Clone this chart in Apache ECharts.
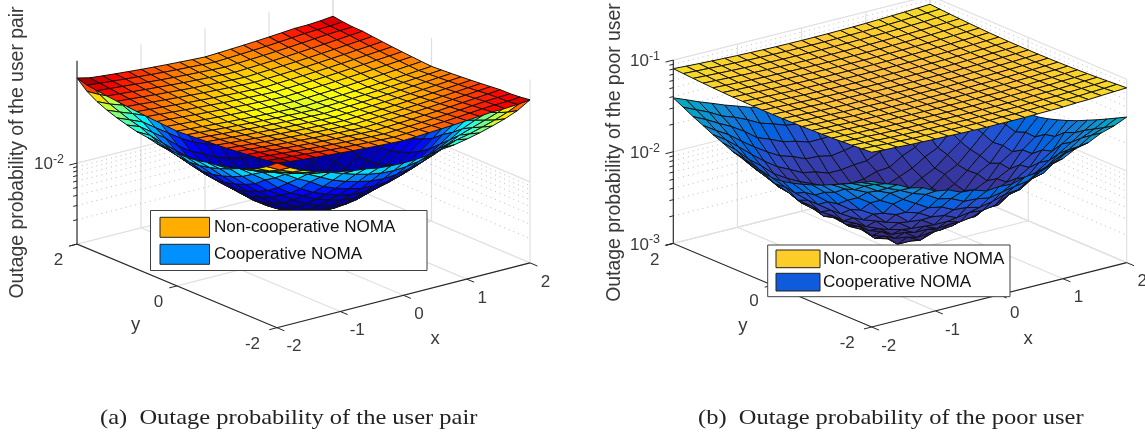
<!DOCTYPE html>
<html><head><meta charset="utf-8">
<style>html,body{margin:0;padding:0;background:#fff}#c{width:1145px;height:433px}</style>
<script src="https://cdn.jsdelivr.net/npm/echarts@6/dist/echarts.min.js"></script>
</head><body><div id="c"></div>
<script>
// grid of the surfaces
const gridXY=[-2,-1.8,-1.6,-1.4,-1.2,-1,-0.8,-0.6,-0.4,-0.2,0,0.2,0.4,0.6,0.8,1,1.2,1.4,1.6,1.8,2];
const xTicks=[-2,-1,0,1,2];
const yTicks=[-2,0,2];
const zTicksA=[0.01];
const zMinorA=[0.002,0.003,0.004,0.005,0.006,0.007,0.008,0.009];
const zTicksB=[0.1,0.01,0.001];
const zMinorB=[0.002,0.003,0.004,0.005,0.006,0.007,0.008,0.009,0.02,0.03,0.04,0.05,0.06,0.07,0.08,0.09];
const zUnit=1e-5;
// outage probability, in units of 1e-5; rows y=-2..2, columns x=-2..2
const pairNonCoop=[
[10800,10253,9926,9605,9313,9049,8813,8611,8431,8271,8130,8271,8431,8611,8813,9049,9313,9605,9650,9900,10300],
[10253,9925,9615,9323,9041,8783,8561,8370,8200,8048,7914,8048,8200,8370,8561,8783,9041,9323,9500,9600,9900],
[9926,9615,9322,9037,8772,8530,8320,8141,7981,7837,7710,7837,7981,8141,8320,8530,8772,9037,9322,9500,9650],
[9605,9323,9037,8762,8514,8285,8088,7918,7766,7630,7510,7630,7766,7918,8088,8285,8514,8762,9037,9323,9605],
[9313,9041,8772,8514,8280,8063,7877,7715,7570,7443,7328,7443,7570,7715,7877,8063,8280,8514,8772,9041,9313],
[9049,8783,8530,8285,8063,7857,7682,7527,7390,7270,7160,7270,7390,7527,7682,7857,8063,8285,8530,8783,9049],
[8813,8561,8320,8088,7877,7682,7513,7366,7235,7119,7016,7119,7235,7366,7513,7682,7877,8088,8320,8561,8813],
[8611,8370,8141,7918,7715,7527,7366,7225,7100,6988,6890,6988,7100,7225,7366,7527,7715,7918,8141,8370,8611],
[8431,8200,7981,7766,7570,7390,7235,7100,6980,6873,6778,6873,6980,7100,7235,7390,7570,7766,7981,8200,8431],
[8271,8048,7837,7630,7443,7270,7119,6988,6873,6769,6678,6769,6873,6988,7119,7270,7443,7630,7837,8048,8271],
[8130,7914,7710,7510,7328,7160,7016,6890,6778,6678,6590,6678,6778,6890,7016,7160,7328,7510,7710,7914,8130],
[8271,8048,7837,7630,7443,7270,7119,6988,6873,6769,6678,6769,6873,6988,7119,7270,7443,7630,7837,8048,8271],
[8431,8200,7981,7766,7570,7390,7235,7100,6980,6873,6778,6873,6980,7100,7235,7390,7570,7766,7981,8200,8431],
[8611,8370,8141,7918,7715,7527,7366,7225,7100,6988,6890,6988,7100,7225,7366,7527,7715,7918,8141,8370,8611],
[8813,8561,8320,8088,7877,7682,7513,7366,7235,7119,7016,7119,7235,7366,7513,7682,7877,8088,8320,8561,8813],
[9049,8783,8530,8285,8063,7857,7682,7527,7390,7270,7160,7270,7390,7527,7682,7857,8063,8285,8530,8783,9049],
[9313,9041,8772,8514,8280,8063,7877,7715,7570,7443,7328,7443,7570,7715,7877,8063,8280,8514,8772,9041,9313],
[9605,9323,9037,8762,8514,8285,8088,7918,7766,7630,7510,7630,7766,7918,8088,8285,8514,8762,9037,9323,9605],
[9926,9615,9322,9037,8772,8530,8320,8141,7981,7837,7710,7837,7981,8141,8320,8530,8772,9037,9322,9500,9650],
[10300,9925,9615,9323,9041,8783,8561,8370,8200,8048,7914,8048,8200,8370,8561,8783,9041,9323,9500,9600,9900],
[11220,10300,9926,9605,9313,9049,8813,8611,8431,8271,8130,8271,8431,8611,8813,9049,9313,9605,9650,9900,10300]];
const pairCoop=[
[10800,8650,7280,6420,5800,5340,4970,4790,4480,4350,4305,4350,4480,4790,4970,5340,5800,6420,7200,8300,10300],
[8650,7180,6190,5550,5010,4650,4100,3650,3340,3140,3069,3140,3340,3650,4100,4650,5010,5550,6190,7050,8300],
[7280,6190,5470,4850,4305,3600,3010,2650,2400,2230,2169,2230,2400,2650,3010,3600,4305,4850,5470,6190,7200],
[6420,5550,4850,4170,3340,2800,2230,1940,1745,1610,1563,1610,1745,1940,2230,2800,3340,4170,4850,5550,6420],
[5800,5010,4305,3340,2620,2050,1680,1450,1295,1200,1169,1200,1295,1450,1680,2050,2620,3340,4305,5010,5800],
[5340,4650,3600,2800,2050,1600,1350,1120,1000,905,879,905,1000,1120,1350,1600,2050,2800,3600,4650,5340],
[4970,4100,3010,2230,1680,1350,1070,879,760,680,656,680,760,879,1070,1350,1680,2230,3010,4100,4970],
[4790,3650,2650,1940,1450,1120,879,710,600,535,518,535,600,710,879,1120,1450,1940,2650,3650,4790],
[4480,3340,2400,1745,1295,1000,760,600,505,445,430,445,505,600,760,1000,1295,1745,2400,3340,4480],
[4350,3140,2230,1610,1200,905,680,535,445,400,385,400,445,535,680,905,1200,1610,2230,3140,4350],
[4305,3069,2169,1563,1169,879,656,518,430,385,377,385,430,518,656,879,1169,1563,2169,3069,4305],
[4350,3140,2230,1610,1200,905,680,535,445,400,385,400,445,535,680,905,1200,1610,2230,3140,4350],
[4480,3340,2400,1745,1295,1000,760,600,505,445,430,445,505,600,760,1000,1295,1745,2400,3340,4480],
[4790,3650,2650,1940,1450,1120,879,710,600,535,518,535,600,710,879,1120,1450,1940,2650,3650,4790],
[4970,4100,3010,2230,1680,1350,1070,879,760,680,656,680,760,879,1070,1350,1680,2230,3010,4100,4970],
[5340,4650,3600,2800,2050,1600,1350,1120,1000,905,879,905,1000,1120,1350,1600,2050,2800,3600,4650,5340],
[5800,5010,4305,3340,2620,2050,1680,1450,1295,1200,1169,1200,1295,1450,1680,2050,2620,3340,4305,5010,5800],
[6420,5550,4850,4170,3340,2800,2230,1940,1745,1610,1563,1610,1745,1940,2230,2800,3340,4170,4850,5550,6420],
[7280,6190,5470,4850,4305,3600,3010,2650,2400,2230,2169,2230,2400,2650,3010,3600,4305,4850,5470,6190,7200],
[8650,7180,6190,5550,5010,4650,4100,3650,3340,3140,3069,3140,3340,3650,4100,4650,5010,5550,6190,7050,8300],
[11220,8650,7280,6420,5800,5340,4970,4790,4480,4350,4305,4350,4480,4790,4970,5340,5800,6420,7200,8300,10300]];
const poorNonCoop=[
[8070,7900,7810,7660,7590,7500,7460,7380,7340,7290,7320,7310,7330,7390,7420,7470,7600,7660,7810,7940,8070],
[7930,7800,7650,7570,7440,7410,7350,7300,7260,7230,7190,7240,7210,7260,7340,7370,7480,7540,7680,7770,7930],
[7790,7680,7540,7430,7360,7280,7240,7210,7170,7100,7130,7110,7170,7160,7240,7310,7350,7470,7560,7660,7790],
[7690,7540,7470,7340,7280,7190,7170,7130,7090,7060,7030,7070,7050,7110,7120,7230,7280,7340,7450,7570,7680],
[7570,7480,7350,7290,7170,7150,7080,7060,7020,7000,6990,6970,7020,7010,7090,7110,7220,7260,7380,7440,7580],
[7490,7400,7310,7190,7130,7050,7040,6980,6960,6920,6930,6950,6930,6990,7010,7080,7110,7220,7270,7400,7490],
[7430,7300,7230,7120,7070,7030,6970,6940,6910,6900,6880,6890,6920,6910,6980,7000,7090,7130,7250,7300,7420],
[7370,7250,7170,7120,6980,6970,6940,6890,6860,6850,6850,6850,6870,6880,6940,6970,7030,7090,7180,7270,7370],
[7330,7230,7130,7050,6970,6930,6900,6860,6840,6830,6820,6830,6830,6860,6900,6950,7000,7060,7150,7220,7330],
[7300,7200,7110,7020,6950,6890,6890,6840,6820,6810,6800,6810,6820,6850,6880,6940,6980,7050,7120,7220,7310],
[7300,7210,7110,7050,6950,6930,6880,6850,6820,6800,6800,6800,6820,6850,6880,6920,6980,7050,7130,7200,7300],
[7310,7220,7130,7050,6960,6930,6880,6850,6830,6810,6810,6810,6830,6840,6890,6930,6980,7040,7140,7210,7310],
[7330,7230,7150,7070,6980,6950,6900,6870,6840,6830,6820,6820,6840,6870,6900,6950,7000,7070,7140,7240,7330],
[7370,7270,7180,7100,7010,6980,6930,6890,6870,6850,6850,6850,6870,6890,6930,6980,7030,7100,7180,7270,7370],
[7420,7320,7230,7150,7070,7020,6980,6930,6900,6890,6880,6890,6900,6930,6970,7020,7080,7150,7230,7320,7420],
[7490,7390,7290,7200,7120,7070,7030,6980,6950,6930,6930,6930,6950,6980,7020,7070,7130,7200,7290,7390,7490],
[7580,7460,7360,7270,7180,7130,7090,7030,7000,6990,6980,6990,7000,7030,7080,7130,7200,7270,7360,7460,7580],
[7680,7560,7450,7350,7270,7200,7150,7100,7070,7050,7050,7050,7070,7100,7150,7200,7270,7350,7450,7560,7680],
[7790,7670,7550,7450,7360,7290,7230,7180,7150,7130,7120,7130,7150,7180,7230,7290,7360,7450,7550,7670,7790],
[7920,7790,7670,7560,7460,7380,7320,7270,7230,7210,7200,7210,7230,7270,7320,7380,7460,7560,7670,7790,7920],
[8070,7920,7790,7680,7580,7490,7430,7370,7330,7310,7300,7310,7330,7370,7420,7490,7580,7680,7790,7920,8070]];
const poorCoop=[
[3870,3380,3040,2580,2400,2030,1930,1680,1640,1470,1520,1490,1640,1690,1930,2050,2420,2600,3050,3360,3870],
[3400,2990,2500,2190,1870,1680,1390,1290,1110,1090,1030,1100,1170,1230,1440,1620,1950,2110,2590,2900,3400],
[2990,2580,2110,1840,1450,1210,1000,940,810,790,730,780,860,890,1060,1150,1510,1760,2180,2520,2990],
[2640,2120,1830,1380,1160,870,790,660,630,550,580,560,590,700,750,930,1100,1440,1770,2190,2640],
[2350,1950,1440,1170,830,740,570,550,450,450,410,430,490,490,610,680,880,1090,1520,1860,2350],
[2090,1610,1220,880,730,550,500,400,390,340,350,360,360,430,460,590,690,930,1140,1690,2090],
[1890,1450,1000,800,570,510,380,350,300,300,270,280,320,330,420,450,610,740,1060,1370,1890],
[1730,1220,950,650,540,400,350,280,270,220,230,240,240,310,330,430,500,710,870,1300,1730],
[1600,1170,800,640,450,390,300,270,210,200,170,190,220,240,320,360,490,580,860,1100,1600],
[1510,1040,800,550,460,340,300,220,200,150,150,170,180,240,280,360,420,600,740,1110,1510],
[1480,1090,720,580,410,360,270,230,170,155,140,140,190,210,290,320,450,540,780,1010,1480],
[1530,1060,790,560,440,360,280,240,180,165,150,160,180,230,290,340,440,590,760,1090,1530],
[1590,1150,820,630,480,380,320,250,220,180,180,200,210,260,300,390,460,620,850,1130,1590],
[1740,1240,940,670,530,420,330,300,250,240,210,230,260,290,350,410,530,680,920,1240,1740],
[1880,1420,1040,770,590,490,400,330,320,280,280,300,310,350,400,490,570,790,1010,1430,1880],
[2110,1640,1190,930,700,580,490,430,370,360,340,350,390,400,490,560,720,880,1200,1630,2110],
[2340,1900,1460,1120,870,700,600,510,480,430,430,450,460,530,580,730,840,1160,1470,1930,2340],
[2650,2160,1790,1400,1120,910,760,690,600,590,550,580,620,660,790,880,1150,1390,1820,2130,2650],
[2980,2560,2140,1820,1490,1170,1040,900,840,760,760,780,820,930,1010,1200,1460,1790,2140,2570,2980],
[3400,2940,2560,2140,1910,1660,1400,1270,1130,1080,1060,1070,1150,1240,1420,1630,1920,2170,2530,2960,3400],
[3870,3410,2980,2650,2340,2100,1880,1740,1590,1520,1480,1500,1610,1720,1900,2080,2360,2630,3000,3390,3870]];
// parula colormap (64 levels)
const parulaR=[.2081,.2116,.2123,.2081,.1959,.1707,.1253,.0591,.0117,.0060,.0165,.0329,.0498,.0629,.0723,.0779,.0793,.0749,.0641,.0488,.0343,.0265,.0239,.0231,.0228,.0267,.0384,.0590,.0843,.1133,.1453,.1801,.2178,.2586,.3022,.3482,.3953,.4420,.4871,.5300,.5709,.6099,.6473,.6834,.7184,.7525,.7858,.8185,.8507,.8824,.9139,.9450,.9739,.9938,.9990,.9955,.9880,.9789,.9697,.9626,.9589,.9598,.9661,.9763];
const parulaG=[.1663,.1898,.2138,.2386,.2645,.2919,.3242,.3598,.3875,.4086,.4266,.4430,.4586,.4737,.4887,.5040,.5200,.5375,.5570,.5772,.5966,.6137,.6287,.6418,.6535,.6642,.6743,.6838,.6928,.7015,.7098,.7177,.7250,.7317,.7376,.7424,.7459,.7481,.7491,.7491,.7485,.7473,.7456,.7435,.7411,.7384,.7356,.7327,.7299,.7274,.7258,.7261,.7314,.7455,.7653,.7861,.8066,.8271,.8481,.8705,.8949,.9218,.9514,.9831];
const parulaB=[.5292,.5777,.6270,.6771,.7279,.7792,.8303,.8683,.8820,.8828,.8786,.8720,.8641,.8554,.8467,.8384,.8312,.8263,.8240,.8228,.8199,.8135,.8038,.7913,.7768,.7607,.7436,.7254,.7062,.6859,.6646,.6424,.6193,.5954,.5712,.5473,.5244,.5033,.4840,.4661,.4494,.4337,.4188,.4044,.3905,.3768,.3633,.3498,.3360,.3217,.3063,.2886,.2666,.2403,.2164,.1967,.1794,.1633,.1475,.1309,.1132,.0948,.0755,.0538];
const legendNames=['Non-cooperative NOMA','Cooperative NOMA'];

const clamp=v=>Math.max(0,Math.min(1,v));
const rgb=(r,g,b)=>`rgb(${Math.round(r*255)},${Math.round(g*255)},${Math.round(b*255)})`;
const jet=f=>{f=clamp(f);return rgb(clamp(1.5-Math.abs(4*f-3)),clamp(1.5-Math.abs(4*f-2)),clamp(1.5-Math.abs(4*f-1)));};
const parula=f=>{const i=Math.round(clamp(f)*63);return rgb(parulaR[i],parulaG[i],parulaB[i]);};

const panels=[
 {front:[277,327.7],ex:[63.25,-16.2],ey:[-50,-20.9],backX:333,zLim:[0.001,0.183],zPx:183.3,
  surfaces:[pairNonCoop,pairCoop],cmap:jet,cLims:[[377,10900],[377,10900]],zTicks:zTicksA,zMinor:zMinorA,
  yLabel:'Outage probability of the user pair',yLabelX:18,yLabelY:152.5,
  caption:'(a)  Outage probability of the user pair',captionX:100,
  xLabelOff:[0,52],yLabelOff:[-1.5,56],
  legend:{x:150.5,y:210.5,w:276.5,h:60,sw:[160,217.3,49.5,20],gap:27,tx:214,fs:17.1,colors:['#ffae00','#0091ff']},zLabelX:64},
 {front:[871.7,327],ex:[63.75,-16.1],ey:[-49.6,-20.9],backX:930,zLim:[0.001,0.1],zPx:183.3,
  surfaces:[poorNonCoop,poorCoop],cmap:parula,cLims:[[-2900,8650],[150,8200]],zTicks:zTicksB,zMinor:zMinorB,
  yLabel:'Outage probability of the poor user',yLabelX:615,yLabelY:152.5,
  caption:'(b)  Outage probability of the poor user',captionX:698,
  xLabelOff:[-3,52],yLabelOff:[10,57],
  legend:{x:767.7,y:245,w:242.3,h:51.7,sw:[776,250,44,17.7],gap:23.3,tx:823,fs:17.1,colors:['#fccd28','#105adc']},zLabelX:660}
];

function project(p,x,y,z){
  const h=p.zPx*Math.log10(z/p.zLim[0])/Math.log10(p.zLim[1]/p.zLim[0]);
  const u=x+2,v=y+2;
  const k=(p.backX-(p.front[0]+4*p.ex[0]+4*p.ey[0]))/16;
  return [p.front[0]+u*p.ex[0]+v*p.ey[0]+u*v*k, p.front[1]+u*p.ex[1]+v*p.ey[1]-h];
}
function depth(p,x,y,z){
  const h=p.zPx*Math.log10(z/p.zLim[0])/Math.log10(p.zLim[1]/p.zLim[0]);
  const S=321/4;
  return 0.945*(0.616*(x+2)*S+0.788*(y+2)*S)-0.324*h/0.945;
}
const series=[];const graphic=[];
const GRID='#e0e0e0',DOT='#bdbdbd',AX='#262626';
const SANS='"Liberation Sans",Arial,sans-serif';
panels.forEach(p=>{
  const [zb,zt]=p.zLim;
  const walls=[];
  const seg=(pts,color,width,dash)=>({pts,color,width,dash});
  xTicks.forEach(x=>{
    walls.push(seg([project(p,x,-2,zb),project(p,x,2,zb),project(p,x,2,zt)],GRID,1.2));
  });
  yTicks.forEach(y=>{
    walls.push(seg([project(p,-2,y,zb),project(p,2,y,zb),project(p,2,y,zt)],GRID,1.2));
  });
  p.zMinor.forEach(z=>walls.push(seg([project(p,-2,2,z),project(p,2,2,z),project(p,2,-2,z)],DOT,1,[1,4])));
  p.zTicks.forEach(z=>walls.push(seg([project(p,-2,2,z),project(p,2,2,z),project(p,2,-2,z)],GRID,1.2)));
  const axes=[];
  axes.push(seg([project(p,-2,2,zt),project(p,-2,2,zb),project(p,-2,-2,zb),project(p,2,-2,zb)],AX,1.1));
  const norm=(v,l)=>{const n=Math.hypot(v[0],v[1]);return [v[0]/n*l,v[1]/n*l];};
  const tx=norm([-p.ey[0],-p.ey[1]],8), ty=norm([-p.ex[0],-p.ex[1]],8);
  xTicks.forEach(x=>{const a=project(p,x,-2,zb);axes.push(seg([a,[a[0]+tx[0],a[1]+tx[1]]],AX,1));});
  yTicks.forEach(y=>{const a=project(p,-2,y,zb);axes.push(seg([a,[a[0]+ty[0],a[1]+ty[1]]],AX,1));});
  p.zTicks.concat([zb]).forEach(z=>{const a=project(p,-2,2,z);axes.push(seg([a,[a[0]+ty[0],a[1]+ty[1]]],AX,1));});
  p.zMinor.forEach(z=>{const a=project(p,-2,2,z);axes.push(seg([a,[a[0]+ty[0]/2,a[1]+ty[1]/2]],AX,1));});
  const quads=[];
  const n=gridXY.length-1;
  p.surfaces.forEach((S,si)=>{
    const cl=p.cLims[si];
    for(let j=0;j<n;j++)for(let i=0;i<n;i++){
      const c=[[i,j],[i+1,j],[i+1,j+1],[i,j+1]].map(([a,b])=>[gridXY[a],gridXY[b],S[b][a]]);
      const mean=c.reduce((s,v)=>s+v[2],0)/4;
      const dm=depth(p,(c[0][0]+c[2][0])/2,(c[0][1]+c[2][1])/2,mean*zUnit);
      quads.push({pts:c.map(v=>project(p,v[0],v[1],v[2]*zUnit)),color:p.cmap((mean-cl[0])/(cl[1]-cl[0])),d:dm});
    }
  });
  quads.sort((a,b)=>b.d-a.d);
  const lineSeries=(items,z)=>({type:'custom',coordinateSystem:'cartesian2d',silent:true,clip:false,z,animation:false,progressive:0,
    data:items.map((_,i)=>[i,i]),
    renderItem:(params,api)=>{const s=items[params.dataIndex];
      return {type:'polyline',shape:{points:s.pts.map(q=>api.coord(q))},style:{stroke:s.color,lineWidth:s.width,lineDash:s.dash||null,fill:null}};}});
  series.push(lineSeries(walls,1));
  series.push({type:'custom',coordinateSystem:'cartesian2d',silent:true,clip:false,z:2,animation:false,progressive:0,
    data:quads.map((_,i)=>[i,i]),
    renderItem:(params,api)=>{const q=quads[params.dataIndex];
      return {type:'polygon',shape:{points:q.pts.map(v=>api.coord(v))},style:{fill:q.color,stroke:'#111',lineWidth:1,lineJoin:'round'}};}});
  series.push(lineSeries(axes,3));
  const txt=(x,y,text,fs)=>graphic.push({type:'text',x,y,z:10,silent:true,style:{text,fontFamily:SANS,fontSize:fs,fill:'#3a3a3a',textAlign:'center',textVerticalAlign:'middle'}});
  xTicks.forEach(x=>{const a=project(p,x,-2,zb);const l=String(x);txt(a[0]+15.5+(l.length>1?1.5:0),a[1]+19,l,17);});
  yTicks.forEach(y=>{const a=project(p,-2,y,zb);const l=String(y);txt(a[0]-18.5-(l.length>1?6:0),a[1]+16.5,l,17);});
  const xl=project(p,0.5,-2,zb),yl=project(p,-2,0.8,zb);
  txt(xl[0]+p.xLabelOff[0],xl[1]+p.xLabelOff[1],'x',18.5);
  txt(yl[0]+p.yLabelOff[0],yl[1]+p.yLabelOff[1],'y',18.5);
  p.zTicks.forEach(z=>{const a=project(p,-2,2,z);const e=Math.round(Math.log10(z));
    graphic.push({type:'text',x:p.zLabelX,y:a[1],z:10,silent:true,style:{text:'{a|10}{b|'+e+'}',textAlign:'right',textVerticalAlign:'middle',fill:'#3a3a3a',fontFamily:SANS,
      rich:{a:{fontSize:17,fill:'#3a3a3a',fontFamily:SANS,verticalAlign:'bottom',lineHeight:20},b:{fontSize:12.5,fill:'#3a3a3a',fontFamily:SANS,verticalAlign:'top',lineHeight:20}}}});});
  graphic.push({type:'text',x:p.yLabelX,y:p.yLabelY,rotation:Math.PI/2,z:10,silent:true,style:{text:p.yLabel,fontFamily:SANS,fontSize:19.4,fill:'#3a3a3a',textAlign:'center',textVerticalAlign:'middle'}});
  graphic.push({type:'text',x:p.captionX,y:418,scaleX:1.166,z:10,silent:true,style:{text:p.caption,fontFamily:'"Liberation Serif","Times New Roman",serif',fontSize:21,fill:'#222',textAlign:'left',textVerticalAlign:'middle'}});
  const L=p.legend;
  graphic.push({type:'rect',shape:{x:L.x,y:L.y,width:L.w,height:L.h},z:20,silent:true,style:{fill:'#fff',stroke:'#404040',lineWidth:1}});
  legendNames.forEach((name,i)=>{
    graphic.push({type:'rect',shape:{x:L.sw[0],y:L.sw[1]+i*L.gap,width:L.sw[2],height:L.sw[3]},z:21,silent:true,style:{fill:L.colors[i],stroke:'#222',lineWidth:1}});
    graphic.push({type:'text',x:L.tx,y:L.sw[1]+i*L.gap+L.sw[3]/2,z:21,silent:true,style:{text:name,fontFamily:SANS,fontSize:L.fs,fill:'#111',textAlign:'left',textVerticalAlign:'middle'}});
  });
});
const chart=echarts.init(document.getElementById('c'),null,{renderer:'canvas',width:1145,height:433});
chart.setOption({animation:false,backgroundColor:'#fff',
  grid:{left:0,right:0,top:0,bottom:0,containLabel:false},
  xAxis:{type:'value',min:0,max:1145,show:false},
  yAxis:{type:'value',min:0,max:433,inverse:true,show:false},
  graphic:{elements:graphic},series});
</script></body></html>
